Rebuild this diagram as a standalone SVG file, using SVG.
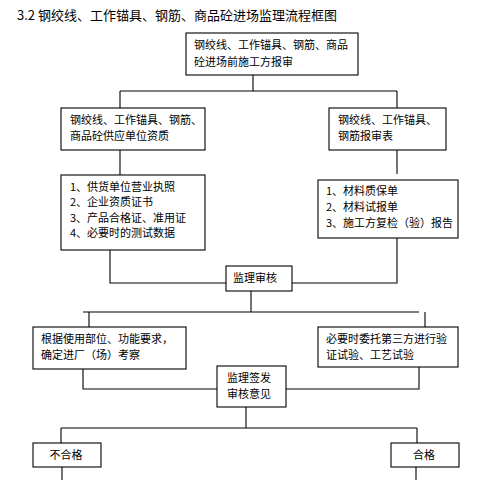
<svg xmlns="http://www.w3.org/2000/svg" width="494" height="480" viewBox="0 0 494 480">
<style>
.b{fill:#fff;stroke:#000;stroke-width:1.1}
.c{fill:none;stroke:#000;stroke-width:1.1}
text{font-family:"Noto Sans CJK SC","Noto Sans",sans-serif;font-size:11px;fill:#000}
.t{font-size:13px}
.m{text-anchor:middle}
</style>
<rect width="494" height="480" fill="#fff"/>
<text class="t" x="17" y="19.5">3.2 钢绞线、工作锚具、钢筋、商品砼进场监理流程框图</text>
<g id="connectors">
<path class="c" d="M253 75V91M120 91H397M120 91V108M397 91V108"/>
<path class="c" d="M120 150V175M397 150V174"/>
<path class="c" d="M110 250V283H226M397 233V283H292"/>
<path class="c" d="M251 291V312M83 312H419M89 312V327M425 312V327"/>
<path class="c" d="M83 366V389H217M419 366V389H286"/>
<path class="c" d="M246 407V428M61 428H417M61 428V443M417 428V443"/>
<path class="c" d="M62 467V480M416 467V480"/>
</g>
<g id="n1"><rect class="b" x="186" y="33" width="172" height="42"/>
<text x="194" y="49">钢绞线、工作锚具、钢筋、商品</text>
<text x="194" y="66">砼进场前施工方报审</text></g>
<g id="n2"><rect class="b" x="61" y="108" width="144" height="42"/>
<text x="70" y="124">钢绞线、工作锚具、钢筋、</text>
<text x="70" y="140">商品砼供应单位资质</text></g>
<g id="n3"><rect class="b" x="329" y="108" width="117" height="42"/>
<text x="338" y="124">钢绞线、工作锚具、</text>
<text x="338" y="140">钢筋报审表</text></g>
<g id="n4"><rect class="b" x="61" y="175" width="144" height="75"/>
<text x="70" y="191">1、供货单位营业执照</text>
<text x="70" y="206">2、企业资质证书</text>
<text x="70" y="222">3、产品合格证、准用证</text>
<text x="70" y="237">4、必要时的测试数据</text></g>
<g id="n5"><rect class="b" x="318" y="180" width="140" height="58"/>
<text x="326" y="195">1、材料质保单</text>
<text x="326" y="211">2、材料试报单</text>
<text x="326" y="227">3、施工方复检（验）报告</text></g>
<g id="n6"><rect class="b" x="226" y="266" width="66" height="25"/>
<text x="255" y="282" class="m">监理审核</text></g>
<g id="n7"><rect class="b" x="33" y="327" width="153" height="42"/>
<text x="41" y="342.5">根据使用部位、功能要求，</text>
<text x="41" y="358.5">确定进厂（场）考察</text></g>
<g id="n8"><rect class="b" x="318" y="327" width="140" height="40"/>
<text x="326" y="342.5">必要时委托第三方进行验</text>
<text x="326" y="358.5">证试验、工艺试验</text></g>
<g id="n9"><rect class="b" x="217" y="366" width="69" height="41"/>
<text x="249" y="381.5" class="m">监理签发</text>
<text x="249" y="397.5" class="m">审核意见</text></g>
<g id="n10"><rect class="b" x="33" y="443" width="68" height="24"/>
<text x="66" y="459" class="m">不合格</text></g>
<g id="n11"><rect class="b" x="391" y="443" width="68" height="24"/>
<text x="424" y="459" class="m">合格</text></g>
</svg>
